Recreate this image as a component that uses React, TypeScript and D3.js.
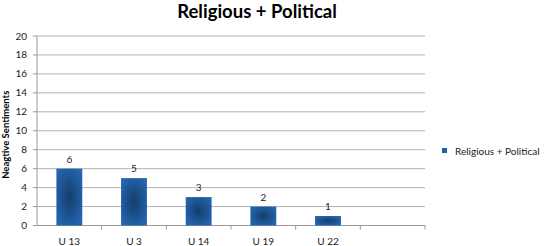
import React from "react";
import * as d3 from "d3";

const categories = ["U 13", "U 3", "U 14", "U 19", "U 22", ""];
const values = [6, 5, 3, 2, 1, null];
const yTicks = [0, 2, 4, 6, 8, 10, 12, 14, 16, 18, 20];
const seriesName = "Religious + Political";
const titleText = "Religious + Political";
const yTitle = "Neagtive Sentiments";

export default function App() {
  const W = 552, H = 246;
  const left = 37, right = 425, top = 36, bottom = 225.5;
  const x = d3.scaleBand().domain(categories.map((c, i) => String(i))).range([left, right]).paddingInner(0).paddingOuter(0);
  const y = d3.scaleLinear().domain([0, 20]).range([bottom, top]);
  const bw = x.bandwidth();
  const barW = bw * 0.4;
  const font = "Lato, 'Open Sans', sans-serif";
  return (
    <svg width={W} height={H} style={{ position: "absolute", left: 0, top: 0, background: "#fff" }} fontFamily={font}>
      <defs>
        <radialGradient id="bg" cx="50%" cy="50%" r="60%">
          <stop offset="0%" stopColor="#163d6b" />
          <stop offset="100%" stopColor="#2365b0" />
        </radialGradient>
      </defs>
      <rect width={W} height={H} fill="#fff" />
      <text x={257} y={18} textAnchor="middle" fontSize={18.5} fontWeight="bold" fill="#000">{titleText}</text>
      {yTicks.map((t) => (
        <g key={t}>
          {t > 0 && <line x1={left} x2={right} y1={y(t)} y2={y(t)} stroke="#b3b3b3" strokeWidth={1} />}
          <line x1={left - 4} x2={left} y1={y(t)} y2={y(t)} stroke="#999" />
          <text x={27} y={y(t) + 3.5} textAnchor="end" fontSize={10} fill="#222">{t}</text>
        </g>
      ))}
      <line x1={left} x2={left} y1={top} y2={bottom} stroke="#999" />
      <line x1={left} x2={right} y1={bottom} y2={bottom} stroke="#999" />
      {categories.map((c, i) => (
        <line key={"t" + i} x1={x(String(i))! + bw} x2={x(String(i))! + bw} y1={bottom} y2={bottom + 4} stroke="#999" />
      ))}
      {categories.map((c, i) => {
        const v = values[i];
        const cx = x(String(i))! + bw / 2;
        return (
          <g key={"b" + i}>
            {v != null && (
              <>
                <rect x={cx - barW / 2} y={y(v)} width={barW} height={bottom - y(v)} fill="url(#bg)" />
                <text x={cx} y={y(v) - 6} textAnchor="middle" fontSize={10} fill="#222">{v}</text>
              </>
            )}
            {c && <text x={cx} y={245} textAnchor="middle" fontSize={10} fill="#222">{c}</text>}
          </g>
        );
      })}
      <text transform={`translate(9, ${(top + bottom) / 2 + 4}) rotate(-90)`} textAnchor="middle" fontSize={9.5} fontWeight="bold" fill="#000">{yTitle}</text>
      <rect x={442} y={148} width={5} height={5} fill="#1f5fa6" />
      <text x={455} y={155} fontSize={10} fill="#222">{seriesName}</text>
    </svg>
  );
}
